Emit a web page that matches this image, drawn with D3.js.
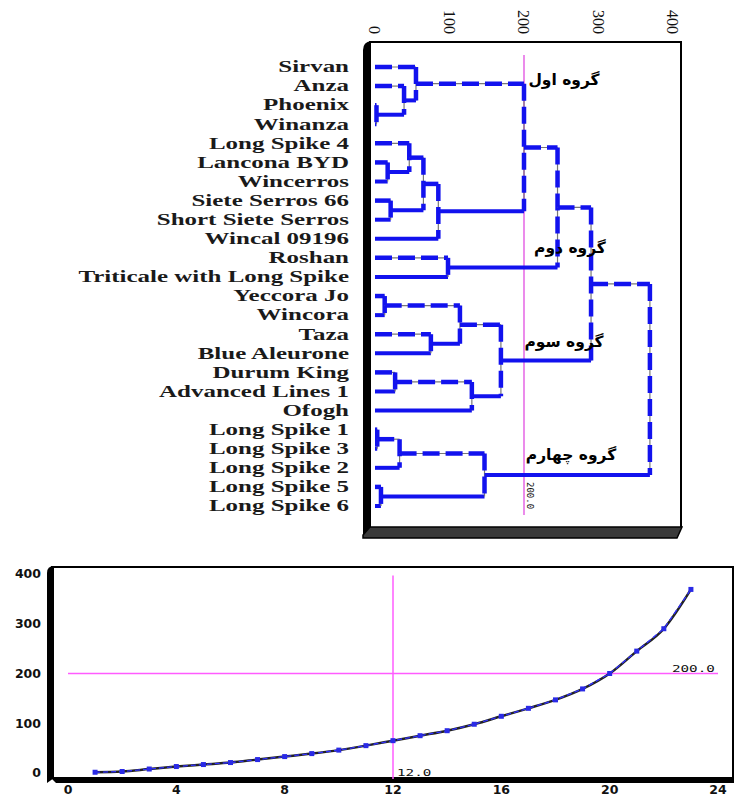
<!DOCTYPE html>
<html>
<head>
<meta charset="utf-8">
<script src="https://cdn.jsdelivr.net/npm/d3@7"></script>
<style>
  html, body { margin: 0; padding: 0; background: #fff; }
  svg { display: block; }
</style>
</head>
<body>
<svg id="chart" width="740" height="796"></svg>
<script>
// ---------------- DATA ----------------
const leaves = [
  "Sirvan", "Anza", "Phoenix", "Winanza", "Long Spike 4", "Lancona BYD",
  "Wincerros", "Siete Serros 66", "Short Siete Serros", "Wincal 09196",
  "Roshan", "Triticale with Long Spike", "Yeccora Jo", "Wincora", "Taza",
  "Blue Aleurone", "Durum King", "Advanced Lines 1", "Ofogh", "Long Spike 1",
  "Long Spike 3", "Long Spike 2", "Long Spike 5", "Long Spike 6"
];
// hclust-style merge table: negative = leaf (1-based), positive = earlier merge step
const mergeLeft   = [-3, -20, -23, -13, -6, -8, -17, 2, -2, -5, -1, 10, -15, 12, -11, 4, 7, 8, 16, 11, 20, 21, 22];
const mergeRight  = [-4, -21, -24, -14, -7, -9, -18, -22, 1, 5, 9, 6, -16, -10, -12, 13, -19, 3, 17, 14, 15, 19, 18];
const mergeHeight = [2, 3, 8, 13, 17, 21, 27, 33, 39, 46, 55, 65, 75, 85, 98, 114, 130, 147, 169, 200, 245, 290, 369];

const groupLabels = ["گروه اول", "گروه دوم", "گروه سوم", "گروه چهارم"];
const dendroTicks = [0, 100, 200, 300, 400];
const cutHeight = 200;

// fusion-level plot
const stepNumbers = [1, 2, 3, 4, 5, 6, 7, 8, 9, 10, 11, 12, 13, 14, 15, 16, 17, 18, 19, 20, 21, 22, 23];
const fusionLevels = [1.5, 3, 8, 13, 17, 21, 27, 33, 39, 46, 55, 65, 75, 85, 98, 114, 130, 147, 169, 200, 245, 290, 369];
const stepTicks = [0, 4, 8, 12, 16, 20, 24];
const levelTicks = [0, 100, 200, 300, 400];
const refStep = 12;
const refLevel = 200;

// ---------------- DRAW ----------------
const svg = d3.select("#chart");
const BLUE = "#1212ee";
const PINK_TOP = "#e04ee0";
const PINK_BOT = "#ff5cff";

// ===== Dendrogram =====
const xD = d3.scaleLinear().domain([0, 400]).range([375, 673]);
const yD = d3.scalePoint().domain(leaves).range([67, 506]);

// frame
const gF = svg.append("g");
gF.append("rect").attr("x", 370).attr("y", 42).attr("width", 311).attr("height", 486)
  .attr("fill", "#fff").attr("stroke", "#000").attr("stroke-width", 2);
gF.append("path").attr("d", "M363,50 Q363,42 371,41 L371,528 L363,536 Z").attr("fill", "#000");
gF.append("path").attr("d", "M370,527 L682,527 L677,538 L363,538 L363,535 Z")
  .attr("fill", "#3a3a3a").attr("stroke", "#000").attr("stroke-width", 1.5);

// top axis labels (rotated)
svg.append("g").selectAll("text").data(dendroTicks).join("text")
  .attr("transform", d => `translate(${xD(d)},34) rotate(90)`)
  .attr("text-anchor", "end").attr("dy", "0.35em")
  .attr("font-family", "Liberation Serif, serif").attr("font-size", 16)
  .attr("fill", "#111").text(d => d);

// cut line
svg.append("line").attr("x1", xD(cutHeight)).attr("x2", xD(cutHeight))
  .attr("y1", 55).attr("y2", 515).attr("stroke", PINK_TOP).attr("stroke-width", 1.3);
svg.append("text")
  .attr("transform", `translate(${xD(cutHeight) + 2},482) rotate(90)`)
  .attr("font-family", "DejaVu Sans Mono, monospace").attr("font-size", 9)
  .attr("dy", "-0.1em").attr("fill", "#111").text(cutHeight.toFixed(1));

// compute node positions
const nodes = []; // per merge: {x, y, h}
function pos(ref) {
  if (ref < 0) { const name = leaves[-ref - 1]; return { x: xD(0), y: yD(name) }; }
  return nodes[ref - 1];
}
const gL = svg.append("g");
function seg(x1, y1, x2, y2, dashed) {
  if (dashed) {
    gL.append("line").attr("x1", x1).attr("y1", y1).attr("x2", x2).attr("y2", y2)
      .attr("stroke", "#777").attr("stroke-width", 1.2);
    gL.append("line").attr("x1", x1).attr("y1", y1).attr("x2", x2).attr("y2", y2)
      .attr("stroke", BLUE).attr("stroke-width", 4.5).attr("stroke-dasharray", "17,6");
  } else {
    gL.append("line").attr("x1", x1).attr("y1", y1).attr("x2", x2).attr("y2", y2)
      .attr("stroke", BLUE).attr("stroke-width", 4);
  }
}
mergeHeight.forEach((h, i) => {
  const a = pos(mergeLeft[i]), b = pos(mergeRight[i]);
  const xp = xD(h);
  const top = a.y <= b.y ? a : b, bot = a.y <= b.y ? b : a;
  seg(top.x, top.y, xp, top.y, true);
  seg(bot.x, bot.y, xp, bot.y, false);
  seg(xp, top.y, xp, bot.y, true);
  nodes.push({ x: xp, y: (a.y + b.y) / 2, h });
});

// leaf labels
svg.append("g").selectAll("text").data(leaves).join("text")
  .attr("transform", d => `translate(349,${yD(d)}) scale(1.56,1)`)
  .attr("text-anchor", "end").attr("dy", "0.33em")
  .attr("font-family", "Liberation Serif, serif").attr("font-weight", "bold")
  .attr("font-size", 16).attr("fill", "#1a1a1a").text(d => d);

// group labels
const groupPos = [[564, 80], [570, 248], [564, 342], [571, 455]];
svg.append("g").selectAll("text").data(groupLabels).join("text")
  .attr("x", (d, i) => groupPos[i][0]).attr("y", (d, i) => groupPos[i][1])
  .attr("text-anchor", "middle").attr("dy", "0.35em").attr("direction", "rtl")
  .attr("font-family", "DejaVu Sans, sans-serif").attr("font-weight", "bold")
  .attr("font-size", 15.5).attr("fill", "#000").text(d => d);

// ===== Fusion-level plot =====
const xB = d3.scaleLinear().domain([0, 24]).range([68, 718]);
const yB = d3.scaleLinear().domain([0, 400]).range([773, 574]);

const gB = svg.append("g");
gB.append("rect").attr("x", 52).attr("y", 567).attr("width", 681).attr("height", 211)
  .attr("fill", "#fff").attr("stroke", "#000").attr("stroke-width", 2);
gB.append("path").attr("d", "M47,573 Q47,566 54,566 L54,778 L47,783 Z").attr("fill", "#000");
gB.append("path").attr("d", "M50,777 L734,777 L734,783 L56,783 Z").attr("fill", "#000");

// axis labels
svg.append("g").selectAll("text").data(levelTicks).join("text")
  .attr("x", 41).attr("y", d => yB(d)).attr("dy", "0.35em").attr("text-anchor", "end")
  .attr("font-family", "DejaVu Sans, sans-serif").attr("font-weight", "bold")
  .attr("font-size", 12.5).attr("fill", "#111").text(d => d);
svg.append("g").selectAll("text").data(stepTicks).join("text")
  .attr("x", d => xB(d)).attr("y", 790).attr("dy", "0.35em").attr("text-anchor", "middle")
  .attr("font-family", "DejaVu Sans, sans-serif").attr("font-weight", "bold")
  .attr("font-size", 12.5).attr("fill", "#111").text(d => d);

// reference lines
svg.append("line").attr("x1", xB(0)).attr("x2", xB(24)).attr("y1", yB(refLevel)).attr("y2", yB(refLevel))
  .attr("stroke", PINK_BOT).attr("stroke-width", 1.5);
svg.append("line").attr("x1", xB(refStep)).attr("x2", xB(refStep)).attr("y1", yB(397)).attr("y2", yB(-12))
  .attr("stroke", PINK_BOT).attr("stroke-width", 1.5);
svg.append("text").attr("transform", `translate(${xB(22.3)},${yB(refLevel) - 2}) scale(1.5,1)`)
  .attr("font-family", "DejaVu Sans Mono, monospace").attr("font-size", 9.5).attr("fill", "#111")
  .text(refLevel.toFixed(1));
svg.append("text").attr("transform", `translate(${xB(refStep) + 4},${yB(-4) + 1}) scale(1.5,1)`)
  .attr("font-family", "DejaVu Sans Mono, monospace").attr("font-size", 9.5).attr("fill", "#111")
  .text(refStep.toFixed(1));

// curve
const pts = stepNumbers.map((s, i) => [xB(s), yB(fusionLevels[i])]);
svg.append("path").attr("d", d3.line().curve(d3.curveMonotoneX)(pts))
  .attr("fill", "none").attr("stroke", "#222").attr("stroke-width", 2.5);
svg.append("path").attr("d", d3.line()(pts))
  .attr("fill", "none").attr("stroke", "#3030ff").attr("stroke-width", 1.3).attr("stroke-dasharray", "5,3");
svg.append("g").selectAll("rect").data(pts).join("rect")
  .attr("x", d => d[0] - 2.5).attr("y", d => d[1] - 2.5).attr("width", 5).attr("height", 5)
  .attr("fill", "#2a2ae6");
</script>
</body>
</html>
